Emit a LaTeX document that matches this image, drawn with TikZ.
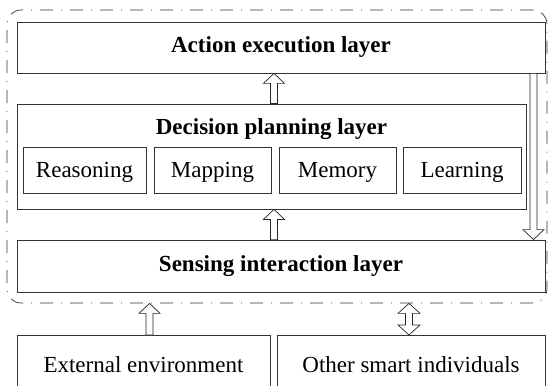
\documentclass[tikz,border=0pt]{standalone}
\usepackage{fontspec}
\setmainfont{Liberation Serif}
\usetikzlibrary{calc}
\tikzset{
  layer/.style={draw=black!80, line width=0.8pt, fill=white, inner sep=0pt},
  part/.style={layer, minimum height=46pt, text height=17pt, text depth=3pt},
  world/.style={layer, anchor=north, inner ysep=0pt, text height=37pt, text depth=38pt},
  agentframe/.style={draw=black!80, line width=0.7pt, rounded corners=14pt,
    dash pattern=on 13pt off 8pt on 1pt off 8pt, inner sep=0pt},
  blockarrow/.style={draw=black!85, line width=0.7pt, fill=white}
}
\newcommand{\hollowarrow}[2]{%
  \draw[blockarrow] let \p1=(#1), \p2=(#2), \n1={sign(\y2-\y1)} in
    (\x1-3.5pt,\y1) -- (\x1-3.5pt,\y2-\n1*10pt) -- (\x1-10.5pt,\y2-\n1*10pt) -- (\x2,\y2)
    -- (\x1+10.5pt,\y2-\n1*10pt) -- (\x1+3.5pt,\y2-\n1*10pt) -- (\x1+3.5pt,\y1) -- cycle;}
\newcommand{\hollowboth}[2]{%
  \draw[blockarrow] let \p1=(#1), \p2=(#2), \n1={sign(\y2-\y1)} in
    (\x1,\y1) -- (\x1+11pt,\y1+\n1*10pt) -- (\x1+3.5pt,\y1+\n1*10pt) -- (\x1+3.5pt,\y2-\n1*10pt)
    -- (\x1+11pt,\y2-\n1*10pt) -- (\x2,\y2) -- (\x1-11pt,\y2-\n1*10pt) -- (\x1-3.5pt,\y2-\n1*10pt)
    -- (\x1-3.5pt,\y1+\n1*10pt) -- (\x1-11pt,\y1+\n1*10pt) -- cycle;}
\begin{document}
\begin{tikzpicture}[x=1pt, y=-1pt, font=\fontsize{23}{27}\selectfont]
  \useasboundingbox (0,0) rectangle (548,385);
  \node[agentframe, minimum width=540pt, minimum height=293pt] (agent) at (277,156.5) {};
  \node[layer, minimum width=528pt, minimum height=51pt] (action) at (281,47.5) {\bfseries Action execution layer};
  \node[layer, minimum width=509pt, minimum height=105pt] (decision) at (271.5,156.5) {};
  \node[anchor=base, inner sep=0pt] (dtitle) at (271.5,134) {\bfseries Decision planning layer};
  \node[part, minimum width=123pt] (reasoning) at (84.5,170) {Reasoning};
  \node[part, minimum width=117pt] (mapping) at (212.5,170) {Mapping};
  \node[part, minimum width=117pt] (memory) at (337.5,170) {Memory};
  \node[part, minimum width=118pt] (learning) at (462,170) {Learning};
  \node[layer, minimum width=528pt, minimum height=52pt] (sensing) at (281,266) {\bfseries Sensing interaction layer};
  \node[world, minimum width=253pt] (ext) at (143.5,335) {External environment};
  \node[world, minimum width=268pt] (other) at (411,335) {Other smart individuals};
  \coordinate (upx) at (274,0);
  \coordinate (downx) at (533.5,0);
  \coordinate (extx) at (149.5,0);
  \coordinate (othx) at (409,0);
  \hollowarrow{decision.north -| upx}{action.south -| upx}
  \hollowarrow{sensing.north -| upx}{decision.south -| upx}
  \hollowarrow{action.south -| downx}{sensing.north -| downx}
  \hollowarrow{ext.north -| extx}{agent.south -| extx}
  \hollowboth{other.north -| othx}{agent.south -| othx}
\end{tikzpicture}
\end{document}
